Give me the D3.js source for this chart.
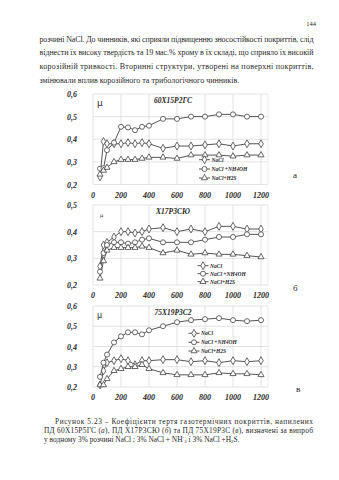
<!DOCTYPE html>
<html><head><meta charset="utf-8">
<script src="https://cdn.jsdelivr.net/npm/d3@7"></script>
<style>
html,body{margin:0;padding:0;background:#fff;}
svg{display:block;}
</style></head>
<body>
<svg id="page" width="339" height="480"></svg>
<script>
// ---------- data ----------
const xValues = [50,75,100,150,200,250,300,350,400,500,600,700,800,900,1000,1100,1200];
const xTicks = [0,200,400,600,800,1000,1200];
const seriesNames = ["NaCl","NaCl +NH4OH","NaCl+H2S"];
const seriesMarkers = ["diamond","circle","triangle"];

const titleA = "60Х15Р2ГС";
const yTicksA = [0.2,0.3,0.4,0.5,0.6];
const aNaCl  = [0.234,0.39,0.38,0.38,0.38,0.385,0.38,0.385,0.38,0.36,0.37,0.37,0.375,0.38,0.37,0.38,0.38];
const aNH4OH = [0.27,0.272,0.352,0.385,0.455,0.452,0.44,0.455,0.46,0.49,0.49,0.50,0.50,0.51,0.51,0.50,0.50];
const aH2S   = [0.245,0.262,0.275,0.30,0.31,0.31,0.31,0.315,0.32,0.32,0.315,0.33,0.33,0.33,0.325,0.33,0.33];

const titleB = "Х17Р3СЮ";
const yTicksB = [0.2,0.3,0.4,0.5];
const bNaCl  = [0.27,0.35,0.36,0.38,0.40,0.40,0.395,0.40,0.41,0.415,0.40,0.41,0.40,0.42,0.42,0.41,0.41];
const bNH4OH = [0.25,0.32,0.35,0.36,0.36,0.355,0.36,0.37,0.375,0.36,0.36,0.36,0.37,0.38,0.38,0.39,0.39];
const bH2S   = [0.225,0.29,0.33,0.34,0.34,0.34,0.34,0.345,0.34,0.32,0.33,0.315,0.32,0.315,0.315,0.31,0.305];

const titleC = "75Х19Р3С2";
const yTicksC = [0.2,0.3,0.4,0.5,0.6];
const cNaCl  = [0.21,0.28,0.32,0.33,0.34,0.33,0.31,0.33,0.33,0.335,0.335,0.325,0.33,0.32,0.33,0.325,0.33];
const cNH4OH = [0.25,0.32,0.36,0.42,0.45,0.47,0.47,0.46,0.48,0.50,0.52,0.53,0.535,0.54,0.53,0.525,0.53];
const cH2S   = [0.21,0.21,0.24,0.28,0.29,0.30,0.30,0.31,0.29,0.27,0.26,0.26,0.26,0.27,0.265,0.265,0.26];

const topText = [
  "розчині NaCl. До чинників, які сприяли підвищенню зносостійкості покриттів, слід",
  "віднести їх високу твердість та 19 мас.% хрому в їх складі, що сприяло їх високій",
  "корозійній тривкості. Вторинні структури, утворені на поверхні покриттів,",
  "змінювали вплив корозійного та трибологічного чинників."
];
const pageNumber = "144";
const panelLetters = ["а","б","в"];

// ---------- drawing ----------
const svg = d3.select("#page");
const ink = "#2a2a2a";
const serif = "'Liberation Serif','DejaVu Serif',serif";

svg.append("text").attr("x",316).attr("y",26).attr("text-anchor","end")
  .attr("font-family",serif).attr("font-size",6.5).attr("fill",ink).text(pageNumber);

const topBase = [42,55,68.5,82.5];
topText.forEach((t,i)=>{
  const el = svg.append("text").attr("x",39.5).attr("y",topBase[i])
    .attr("font-family",serif).attr("font-size",8).attr("fill",ink).text(t);
  if(i<3) el.attr("textLength",274).attr("lengthAdjust","spacing");
});

function markerPath(type){
  if(type==="circle") return d3.symbol(d3.symbolCircle, 20)();
  if(type==="triangle") return d3.symbol(d3.symbolTriangle, 16)();
  return d3.symbol(d3.symbolDiamond, 18)();
}

function drawChart(cfg){
  const g = svg.append("g");
  const x = d3.scaleLinear().domain([0,1200]).range([93,261]);
  const y = d3.scaleLinear().domain([0.2, cfg.yMax]).range([cfg.bottom, cfg.top]);
  const right = 268;
  // grid
  g.selectAll("line.hg").data(cfg.yTicks).join("line")
    .attr("x1",93).attr("x2",right).attr("y1",d=>y(d)).attr("y2",d=>y(d))
    .attr("stroke","#dcdcdc").attr("stroke-width",0.8);
  g.selectAll("line.vg").data(xTicks).join("line")
    .attr("x1",d=>x(d)).attr("x2",d=>x(d)).attr("y1",cfg.top).attr("y2",cfg.bottom)
    .attr("stroke","#dcdcdc").attr("stroke-width",0.8);
  g.append("line").attr("x1",right).attr("x2",right).attr("y1",cfg.top).attr("y2",cfg.bottom)
    .attr("stroke","#e6e6e6").attr("stroke-width",0.8);
  // y labels
  g.selectAll("text.yl").data(cfg.yTicks).join("text")
    .attr("x",77).attr("y",d=>y(d)+3).attr("text-anchor","end")
    .attr("font-family",serif).attr("font-style","italic").attr("font-weight","bold")
    .attr("font-size",8).attr("fill",ink).text(d=>d3.format(".1f")(d).replace(".",","));
  // x labels
  g.selectAll("text.xl").data(xTicks).join("text")
    .attr("x",d=>x(d)).attr("y",cfg.bottom+13).attr("text-anchor","middle")
    .attr("font-family",serif).attr("font-style","italic").attr("font-weight","bold")
    .attr("font-size",8).attr("fill",ink).text(d=>d);
  // mu + title
  g.append("text").attr("x",cfg.muX).attr("y",cfg.top+12).attr("font-family","'DejaVu Sans',sans-serif")
    .attr("font-size",cfg.muSize).attr("fill",ink).text("μ");
  g.append("text").attr("x",173).attr("y",cfg.top+9).attr("text-anchor","middle")
    .attr("font-family",serif).attr("font-style","italic").attr("font-weight","bold")
    .attr("font-size",7.5).attr("fill",ink).text(cfg.title);
  // series
  const line = d3.line().x((d,i)=>x(xValues[i])).y(d=>y(d));
  cfg.series.forEach((vals,si)=>{
    g.append("path").datum(vals).attr("d",line).attr("fill","none")
      .attr("stroke","#555").attr("stroke-width",1);
  });
  cfg.series.forEach((vals,si)=>{
    g.selectAll(null).data(vals).join("path")
      .attr("transform",(d,i)=>`translate(${x(xValues[i])},${y(d)})`)
      .attr("d",markerPath(seriesMarkers[si]))
      .attr("fill","#fff").attr("stroke","#444").attr("stroke-width",0.8);
  });
  // legend
  seriesNames.forEach((n,i)=>{
    const ly = cfg.legY[i];
    g.append("line").attr("x1",cfg.legX).attr("x2",cfg.legX+11).attr("y1",ly).attr("y2",ly)
      .attr("stroke","#555").attr("stroke-width",1);
    g.append("path").attr("transform",`translate(${cfg.legX+5.5},${ly})`)
      .attr("d",markerPath(seriesMarkers[i])).attr("fill","#fff").attr("stroke","#444").attr("stroke-width",0.8);
    g.append("text").attr("x",cfg.legX+12.5).attr("y",ly+2)
      .attr("font-family",serif).attr("font-style","italic").attr("font-weight","bold")
      .attr("font-size",5.5).attr("fill",ink).text(n);
  });
  g.append("text").attr("x",cfg.letterX).attr("y",cfg.letterY)
    .attr("font-family",serif).attr("font-size",9).attr("fill",ink).text(cfg.letter);
}

drawChart({title:titleA, yMax:0.6, yTicks:yTicksA, top:94, bottom:184.5,
  series:[aNaCl,aNH4OH,aH2S], legX:199, legY:[159.7,169,178], muX:97, muSize:9,
  letter:panelLetters[0], letterX:293, letterY:178});
drawChart({title:titleB, yMax:0.5, yTicks:yTicksB, top:205, bottom:285,
  series:[bNaCl,bNH4OH,bH2S], legX:197.5, legY:[265.7,273.7,281.7], muX:100, muSize:5,
  letter:panelLetters[1], letterX:293, letterY:291});
drawChart({title:titleC, yMax:0.6, yTicks:yTicksC, top:306, bottom:387,
  series:[cNaCl,cNH4OH,cH2S], legX:188.5, legY:[333.3,342.3,351], muX:97, muSize:8,
  letter:panelLetters[2], letterX:296, letterY:392});

// caption
const cap = svg.append("g").attr("font-family",serif).attr("font-size",7.4).attr("fill",ink);
const c1 = cap.append("text").attr("x",55).attr("y",423.5).attr("textLength",258).attr("lengthAdjust","spacing");
c1.text("Рисунок 5.23 – Коефіцієнти тертя газотермічних покриттів, напилених");
const c2 = cap.append("text").attr("x",44).attr("y",432.5).attr("textLength",269).attr("lengthAdjust","spacing");
c2.append("tspan").text("ПД 60Х15Р5ГС (");
c2.append("tspan").attr("font-style","italic").text("а");
c2.append("tspan").text("), ПД Х17Р3СЮ (");
c2.append("tspan").attr("font-style","italic").text("б");
c2.append("tspan").text(") та ПД 75Х19Р3С (");
c2.append("tspan").attr("font-style","italic").text("в");
c2.append("tspan").text("), визначені за випроб");
const c3 = cap.append("text").attr("x",44).attr("y",441.5);
c3.append("tspan").text("у водному 3% розчині NaCl ; 3% NaCl + NH");
c3.append("tspan").attr("font-size",5).attr("dy",-2.5).text("-");
c3.append("tspan").attr("font-size",5).attr("dy",4).text("3");
c3.append("tspan").attr("dy",-1.5).text(" і 3% NaCl +H");
c3.append("tspan").attr("font-size",5).attr("dy",1.5).text("2");
c3.append("tspan").attr("dy",-1.5).text("S.");
</script>
</body></html>
